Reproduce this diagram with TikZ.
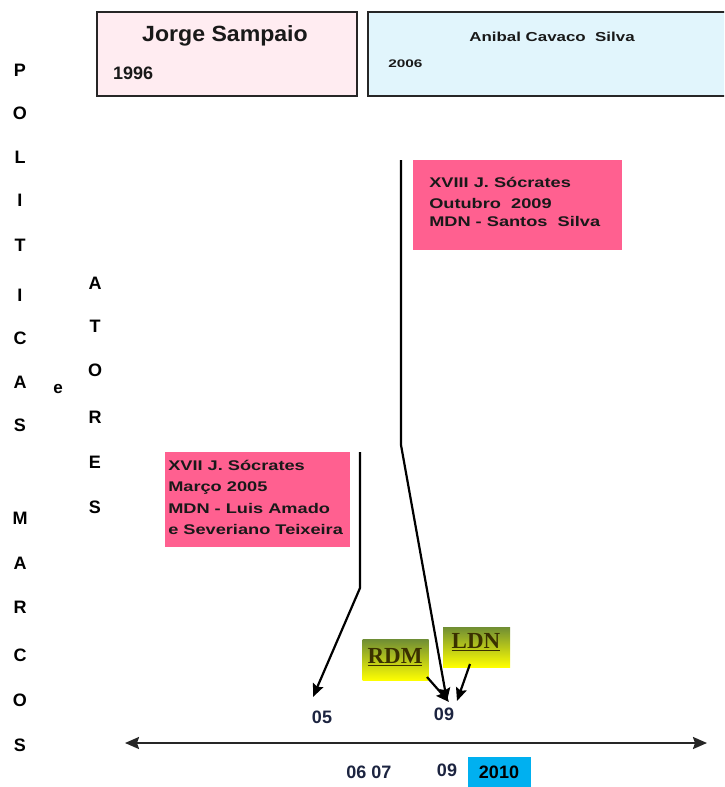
\documentclass[tikz,border=0pt]{standalone}
\usepackage{fontspec}
\setmainfont{Liberation Sans}
\newfontfamily\serifbold{Liberation Serif}
\usetikzlibrary{arrows.meta}

\definecolor{presA}{RGB}{255,236,241}
\definecolor{presB}{RGB}{225,245,252}
\definecolor{govpink}{RGB}{255,96,144}
\definecolor{olivetop}{RGB}{112,142,52}
\definecolor{docyellow}{RGB}{255,255,0}
\definecolor{docink}{RGB}{58,48,0}
\definecolor{yearink}{RGB}{28,36,64}
\definecolor{yearcyan}{RGB}{0,176,240}

\tikzset{
  tlhead/.tip={Stealth[length=14pt,width=12pt,inset=2pt]},
  ptrhead/.tip={Stealth[length=13pt,width=11pt,inset=2pt]},
  presbox/.style={draw=black!85, line width=1.6pt},
  govbox/.style={fill=govpink},
  govtext/.style={anchor=north west, align=left, inner sep=0pt,
    font=\bfseries\fontsize{14}{21.5}\selectfont, xscale=1.3, text=black!90},
  vletter/.style={inner sep=0pt, font=\bfseries\fontsize{18}{18}\selectfont, text=black},
  docbox/.style={shading=axis, top color=olivetop, bottom color=docyellow, inner sep=0pt},
  doctext/.style={inner sep=0pt, text=docink, font=\serifbold\bfseries\fontsize{23}{23}\selectfont},
  yeartext/.style={inner sep=0pt, text=yearink, font=\bfseries\fontsize{18}{18}\selectfont},
  timeline/.style={line width=2.2pt, black!85, tlhead-tlhead},
  pointer/.style={line width=2.2pt, black, -ptrhead}
}

\begin{document}
\begin{tikzpicture}[x=1pt,y=-1pt]
\useasboundingbox (0,0) rectangle (724,787);
\clip (0,0) rectangle (724,787);

% presidential terms
\draw[presbox, fill=presA] (97,12) rectangle (357,96);
\node[inner sep=0pt, font=\bfseries\fontsize{22}{22}\selectfont, xscale=1.05, text=black!90] (sampaio) at (225,36) {Jorge Sampaio};
\node[inner sep=0pt, anchor=west, font=\bfseries\fontsize{18}{18}\selectfont, text=black!90] (y1996) at (113,73) {1996};

\draw[presbox, fill=presB] (368,12) rectangle (740,96);
\node[inner sep=0pt, font=\bfseries\fontsize{13}{13}\selectfont, xscale=1.3, text=black!90] (cavaco) at (552,37) {Anibal Cavaco\ \ Silva};
\node[inner sep=0pt, anchor=west, font=\bfseries\fontsize{11}{11}\selectfont, xscale=1.4, text=black!90] (y2006) at (388,64) {2006};

% vertical titles
\foreach \ch/\yy [count=\i] in {P/70,O/113,L/157,I/200,T/245,I/295,C/338,A/382,S/425,M/518,A/563,R/607,C/655,O/700,S/745}
  \node[vletter] (left\i) at (20,\yy) {\ch};
\node[inner sep=0pt, font=\bfseries\fontsize{17}{17}\selectfont, text=black] (conj) at (58,389) {e};
\foreach \ch/\yy [count=\i] in {A/283,T/326,O/370,R/417,E/462,S/507}
  \node[vletter] (mid\i) at (95,\yy) {\ch};

% governments
\node[govbox, minimum width=209pt, minimum height=90pt, inner sep=0pt, anchor=north west] (gov18) at (413,160) {};
\node[govtext] (gov18txt) at (429,177) {XVIII J. Sócrates\\Outubro\ \ 2009\\[-4pt]MDN - Santos\ \ Silva};

\node[govbox, minimum width=185pt, minimum height=95pt, inner sep=0pt, anchor=north west] (gov17) at (165,452) {};
\node[govtext] (gov17txt) at (168,460) {XVII J. Sócrates\\Março 2005\\MDN - Luis\ Amado\\e\ Severiano Teixeira};

% documents
\node[docbox, minimum width=66pt, minimum height=41pt] (rdmbox) at (395.5,660) {};
\node[doctext] (rdm) at (395,657) {\underline{RDM}};
\node[docbox, minimum width=67pt, minimum height=40pt] (ldnbox) at (476.5,647) {};
\node[doctext] (ldn) at (476,642) {\underline{LDN}};

% years above the timeline
\node[yeartext] (t05) at (322,717) {05};
\node[yeartext] (t09) at (444,714) {09};

% timeline
\coordinate (tlL) at (125,743);
\coordinate (tlR) at (707,743);
\draw[timeline] (tlL) -- (tlR);

% years below the timeline
\node[yeartext] (t0607) at (369,772) {06 07};
\node[yeartext] (b09) at (447,770) {09};
\node[fill=yearcyan, minimum width=63pt, minimum height=31pt, inner sep=0pt] (cyanbox) at (499,772) {};
\node[yeartext, text=black] (t2010) at (499,772) {2010};

% pointers from governments and documents to the years
\coordinate (p18a) at (401,160);
\coordinate (p18b) at (401,445);
\coordinate (p18c) at (447,701);
\draw[pointer] (p18a) -- (p18b) -- (p18c);

\coordinate (p17a) at (360,452);
\coordinate (p17b) at (360,588);
\coordinate (p17c) at (313,697);
\draw[pointer] (p17a) -- (p17b) -- (p17c);

\coordinate (prdm) at (427,677);
\coordinate (prdmend) at (449,702);
\draw[pointer] (prdm) -- (prdmend);

\coordinate (pldn) at (470,664);
\coordinate (pldnend) at (457,701);
\draw[pointer] (pldn) -- (pldnend);
\end{tikzpicture}
\end{document}
